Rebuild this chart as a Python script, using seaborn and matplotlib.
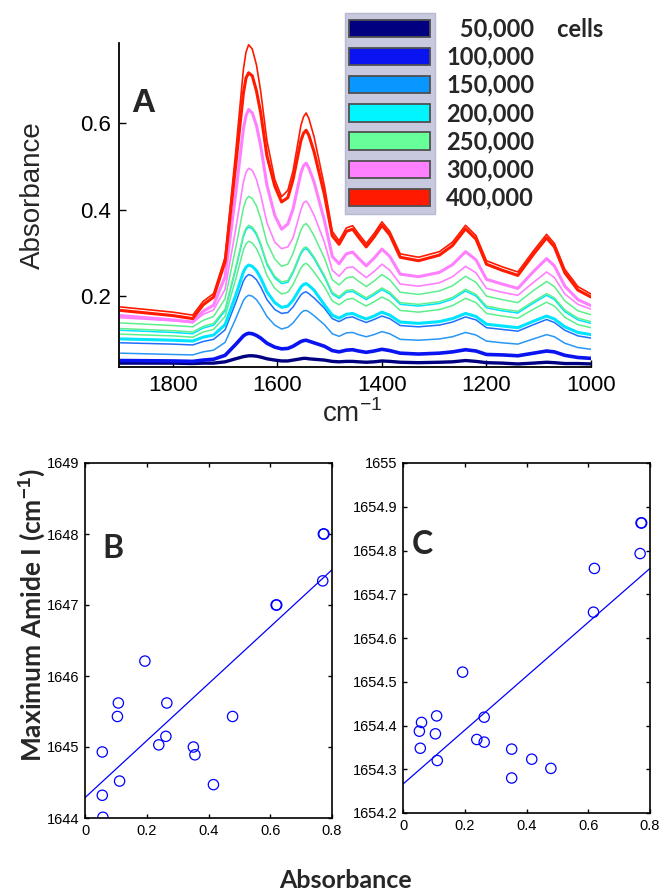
import matplotlib
matplotlib.use('Agg')
import matplotlib.pyplot as plt
import matplotlib.patches as mpatches
from matplotlib.ticker import FormatStrFormatter
import seaborn as sns

sns.set_theme(style='ticks')
plt.rcParams['font.family'] = ['Liberation Sans', 'DejaVu Sans']
plt.rcParams['mathtext.fontset'] = 'custom'
plt.rcParams['mathtext.rm'] = 'Liberation Sans'
plt.rcParams['mathtext.bf'] = 'Liberation Sans:bold'

#%% panel A: IR spectra (absorbance vs wavenumber)
wavenumber = [1900, 1800, 1762, 1742, 1722, 1700, 1680, 1665, 1660, 1655, 1648, 1640,
              1632, 1620, 1605, 1592, 1580, 1570, 1555, 1550, 1545, 1540, 1530, 1510,
              1495, 1482, 1468, 1456, 1445, 1430, 1415, 1400, 1385, 1365, 1330, 1290,
              1265, 1240, 1220, 1200, 1170, 1140, 1110, 1085, 1070, 1050, 1025, 1000]

abs_400k_a = [0.175, 0.163, 0.156, 0.188, 0.206, 0.290, 0.530, 0.725, 0.765, 0.782, 0.772, 0.735,
              0.675, 0.560, 0.470, 0.430, 0.445, 0.490, 0.595, 0.615, 0.624, 0.612, 0.570, 0.455,
              0.350, 0.328, 0.358, 0.363, 0.345, 0.322, 0.345, 0.372, 0.350, 0.298, 0.290, 0.303,
              0.325, 0.364, 0.340, 0.282, 0.268, 0.256, 0.305, 0.343, 0.322, 0.262, 0.222, 0.205]
abs_400k_b = [0.167, 0.155, 0.148, 0.180, 0.198, 0.280, 0.500, 0.670, 0.705, 0.717, 0.710, 0.675,
              0.625, 0.525, 0.455, 0.418, 0.428, 0.470, 0.560, 0.577, 0.584, 0.573, 0.535, 0.435,
              0.340, 0.320, 0.350, 0.355, 0.337, 0.314, 0.337, 0.364, 0.342, 0.290, 0.282, 0.295,
              0.317, 0.356, 0.332, 0.274, 0.260, 0.248, 0.297, 0.335, 0.314, 0.254, 0.214, 0.198]
abs_300k_a = [0.155, 0.145, 0.140, 0.165, 0.179, 0.245, 0.434, 0.587, 0.618, 0.632, 0.624, 0.595,
              0.548, 0.457, 0.387, 0.355, 0.367, 0.402, 0.485, 0.502, 0.508, 0.497, 0.465, 0.375,
              0.292, 0.275, 0.298, 0.302, 0.288, 0.270, 0.288, 0.309, 0.292, 0.251, 0.245, 0.255,
              0.273, 0.303, 0.284, 0.239, 0.228, 0.218, 0.257, 0.287, 0.270, 0.223, 0.192, 0.178]
abs_300k_b = [0.150, 0.143, 0.139, 0.158, 0.168, 0.216, 0.353, 0.464, 0.487, 0.496, 0.491, 0.470,
              0.435, 0.370, 0.325, 0.310, 0.314, 0.335, 0.400, 0.416, 0.420, 0.412, 0.388, 0.325,
              0.260, 0.246, 0.265, 0.268, 0.257, 0.243, 0.257, 0.274, 0.260, 0.228, 0.223, 0.231,
              0.245, 0.269, 0.254, 0.218, 0.209, 0.202, 0.232, 0.256, 0.243, 0.205, 0.181, 0.170]
abs_250k_a = [0.138, 0.132, 0.129, 0.144, 0.153, 0.194, 0.310, 0.404, 0.423, 0.431, 0.426, 0.409,
              0.380, 0.324, 0.286, 0.269, 0.274, 0.299, 0.353, 0.364, 0.368, 0.361, 0.340, 0.288,
              0.238, 0.226, 0.242, 0.245, 0.235, 0.222, 0.235, 0.250, 0.238, 0.209, 0.204, 0.212,
              0.224, 0.246, 0.232, 0.200, 0.192, 0.185, 0.213, 0.234, 0.222, 0.189, 0.166, 0.157]
abs_250k_b = [0.125, 0.120, 0.117, 0.130, 0.137, 0.170, 0.265, 0.342, 0.357, 0.364, 0.360, 0.346,
              0.322, 0.277, 0.246, 0.233, 0.236, 0.258, 0.302, 0.311, 0.314, 0.308, 0.291, 0.248,
              0.209, 0.199, 0.213, 0.215, 0.207, 0.196, 0.207, 0.219, 0.209, 0.185, 0.181, 0.187,
              0.197, 0.216, 0.204, 0.177, 0.170, 0.165, 0.188, 0.206, 0.196, 0.168, 0.149, 0.141]
abs_250k_c = [0.112, 0.108, 0.105, 0.117, 0.123, 0.153, 0.238, 0.307, 0.321, 0.327, 0.323, 0.310,
              0.289, 0.248, 0.218, 0.205, 0.209, 0.227, 0.265, 0.273, 0.276, 0.271, 0.256, 0.222,
              0.189, 0.180, 0.192, 0.195, 0.187, 0.177, 0.187, 0.198, 0.189, 0.167, 0.163, 0.169,
              0.178, 0.195, 0.185, 0.160, 0.154, 0.149, 0.170, 0.186, 0.177, 0.151, 0.134, 0.127]
abs_200k_a = [0.121, 0.116, 0.113, 0.126, 0.133, 0.166, 0.261, 0.338, 0.353, 0.360, 0.356, 0.342,
              0.318, 0.273, 0.242, 0.229, 0.232, 0.254, 0.298, 0.307, 0.310, 0.304, 0.287, 0.244,
              0.205, 0.195, 0.209, 0.211, 0.203, 0.192, 0.203, 0.215, 0.205, 0.181, 0.177, 0.183,
              0.193, 0.212, 0.200, 0.173, 0.166, 0.161, 0.184, 0.202, 0.192, 0.164, 0.145, 0.137]
abs_200k_b = [0.101, 0.098, 0.096, 0.105, 0.110, 0.134, 0.201, 0.256, 0.267, 0.272, 0.269, 0.259,
              0.242, 0.210, 0.185, 0.174, 0.177, 0.191, 0.221, 0.227, 0.229, 0.225, 0.214, 0.180,
              0.156, 0.149, 0.158, 0.160, 0.154, 0.147, 0.154, 0.163, 0.156, 0.140, 0.137, 0.141,
              0.148, 0.160, 0.153, 0.135, 0.131, 0.127, 0.142, 0.154, 0.147, 0.129, 0.116, 0.111]
abs_150k_a = [0.092, 0.089, 0.087, 0.095, 0.100, 0.122, 0.184, 0.235, 0.245, 0.250, 0.247, 0.238,
              0.222, 0.192, 0.169, 0.160, 0.162, 0.175, 0.203, 0.208, 0.210, 0.206, 0.196, 0.172,
              0.148, 0.141, 0.150, 0.152, 0.146, 0.139, 0.146, 0.154, 0.148, 0.132, 0.129, 0.133,
              0.140, 0.152, 0.145, 0.127, 0.123, 0.119, 0.134, 0.146, 0.139, 0.121, 0.108, 0.103]
abs_150k_b = [0.068, 0.065, 0.064, 0.071, 0.075, 0.093, 0.147, 0.190, 0.198, 0.202, 0.200, 0.192,
              0.178, 0.153, 0.133, 0.124, 0.128, 0.138, 0.161, 0.166, 0.167, 0.164, 0.155, 0.134,
              0.113, 0.107, 0.115, 0.116, 0.111, 0.106, 0.111, 0.118, 0.113, 0.100, 0.098, 0.101,
              0.106, 0.116, 0.110, 0.096, 0.092, 0.089, 0.101, 0.111, 0.106, 0.091, 0.081, 0.077]
abs_100k = [0.051, 0.050, 0.049, 0.052, 0.054, 0.063, 0.088, 0.108, 0.112, 0.114, 0.113, 0.109,
            0.103, 0.091, 0.082, 0.078, 0.079, 0.084, 0.095, 0.097, 0.098, 0.096, 0.092, 0.084,
            0.074, 0.071, 0.075, 0.076, 0.073, 0.070, 0.073, 0.077, 0.074, 0.068, 0.066, 0.068,
            0.071, 0.076, 0.073, 0.065, 0.064, 0.062, 0.068, 0.073, 0.071, 0.063, 0.058, 0.056]
abs_50k = [0.045, 0.045, 0.044, 0.045, 0.045, 0.048, 0.055, 0.060, 0.061, 0.062, 0.062, 0.061,
           0.059, 0.055, 0.052, 0.050, 0.050, 0.052, 0.055, 0.056, 0.056, 0.055, 0.054, 0.052,
           0.049, 0.048, 0.049, 0.049, 0.048, 0.047, 0.048, 0.050, 0.049, 0.047, 0.046, 0.047,
           0.048, 0.051, 0.049, 0.046, 0.045, 0.043, 0.045, 0.047, 0.046, 0.044, 0.044, 0.043]

cells = ['\u200750,000    cells', '100,000', '150,000', '200,000', '250,000', '300,000', '400,000']
cell_colors = ['#000080', '#0a14f0', '#0a96ff', '#00f5ff', '#66ff99', '#ff80ff', '#ff1a00']

# (curve, colour, linewidth) drawn bottom-up so red sits on top
spectra = [(abs_50k, '#000080', 2.4), (abs_100k, '#0a14f0', 2.6),
           (abs_150k_b, '#2896f5', 1.1), (abs_150k_a, '#1e6eff', 1.1),
           (abs_200k_b, '#00e5ff', 2.2), (abs_250k_c, '#5cef8c', 1.1),
           (abs_200k_a, '#00e5ff', 1.1), (abs_250k_b, '#5cef8c', 1.1),
           (abs_250k_a, '#5cef8c', 1.1), (abs_300k_b, '#ff80ff', 1.2),
           (abs_300k_a, '#ff80ff', 2.2), (abs_400k_b, '#ff1a00', 2.2),
           (abs_400k_a, '#ff1a00', 1.2)]

#%% panels B and C: amide I maximum vs absorbance
absorbance_b = [0.056, 0.056, 0.058, 0.112, 0.105, 0.108, 0.194, 0.239, 0.262, 0.265,
                0.351, 0.356, 0.416, 0.478, 0.619, 0.621, 0.770, 0.772, 0.774]
amide_b = [1644.93, 1644.32, 1644.01, 1644.52, 1645.43, 1645.62, 1646.21, 1645.03, 1645.15,
           1645.62, 1645.00, 1644.89, 1644.47, 1645.43, 1647.00, 1647.00, 1647.34, 1648.00, 1648.00]

absorbance_c = [0.053, 0.060, 0.056, 0.105, 0.109, 0.111, 0.193, 0.239, 0.263, 0.263,
                0.352, 0.352, 0.417, 0.479, 0.617, 0.620, 0.768, 0.771, 0.773]
amide_c = [1654.387, 1654.407, 1654.348, 1654.381, 1654.422, 1654.320, 1654.522, 1654.368,
           1654.419, 1654.362, 1654.346, 1654.280, 1654.323, 1654.302, 1654.659, 1654.759,
           1654.793, 1654.863, 1654.863]

#%% figure
fig = plt.figure(figsize=(6.6, 8.94), dpi=100)
W, H = 660, 894

axA = fig.add_axes([119/W, 1-367/H, 472/W, 324/H])
for vals, col, lw in spectra:
    sns.lineplot(x=wavenumber, y=vals, ax=axA, color=col, lw=lw, sort=False, estimator=None)
axA.set_xlim(1903, 1000)
axA.set_ylim(0.036, 0.786)
axA.set_xticks([1800, 1600, 1400, 1200, 1000])
axA.set_yticks([0.2, 0.4, 0.6])
axA.yaxis.set_major_formatter(FormatStrFormatter('%g'))
axA.tick_params(direction='in', length=5, width=1, labelsize=16, colors='black', pad=6)
sns.despine(ax=axA)
for s in ['left', 'bottom']:
    axA.spines[s].set_color('black')
    axA.spines[s].set_linewidth(1.3)
axA.set_xlabel('cm$^{-1}$', fontsize=20)
axA.xaxis.set_label_coords((352-119)/472, -0.1)
axA.set_ylabel('Absorbance', fontsize=20)
axA.yaxis.set_label_coords(-0.155, 0.53)
axA.text(0.026, 0.787, 'A', transform=axA.transAxes, fontsize=24, fontweight='bold',
         va='baseline', ha='left')

# legend: lavender patch column plus separate bold labels
leg_font = dict(family=['Lato', 'DejaVu Sans'], weight='bold', size=17)
common = dict(loc='upper left', bbox_transform=fig.transFigure, borderaxespad=0,
              borderpad=0.19, labelspacing=0.22, handleheight=0.76, prop=leg_font)
handles = [mpatches.Patch(facecolor=c, edgecolor='#505050', linewidth=1.3) for c in cell_colors]
leg1 = fig.legend(handles, [''] * len(cells), bbox_to_anchor=(345/W, 1-13/H),
                  handlelength=3.43, handletextpad=0, frameon=True, fancybox=False,
                  framealpha=1, **common)
leg1.get_frame().set_facecolor('#c8c8de')
leg1.get_frame().set_edgecolor('#b8b8d0')
blank = [mpatches.Patch(facecolor='none', edgecolor='none') for c in cell_colors]
leg2 = fig.legend(blank, cells, bbox_to_anchor=(441.5/W, 1-13/H), handlelength=0,
                  handletextpad=0, frameon=False, **common)

tick_font = ['Liberation Sans Narrow', 'Liberation Sans', 'DejaVu Sans']


def scatter_panel(ax, xs, ys, ylim, yticks, letter, lx, ly):
    ax.set_xlim(0, 0.8)
    sns.regplot(x=xs, y=ys, ax=ax, ci=None, truncate=False, color='#0000ff', marker='o',
                scatter_kws=dict(facecolors='none', s=55, linewidths=0.9, alpha=1),
                line_kws=dict(lw=0.9))
    ax.set_xlim(0, 0.8)
    ax.set_ylim(*ylim)
    ax.set_xticks([0, 0.2, 0.4, 0.6, 0.8])
    ax.set_yticks(yticks)
    ax.xaxis.set_major_formatter(FormatStrFormatter('%g'))
    ax.yaxis.set_major_formatter(FormatStrFormatter('%g'))
    ax.tick_params(direction='in', length=3, width=1, top=True, right=True,
                   labelsize=10.5, colors='black', pad=4)
    for lab in ax.get_xticklabels() + ax.get_yticklabels():
        lab.set_family(tick_font)
    for s in ax.spines.values():
        s.set_color('black')
        s.set_linewidth(1.2)
    ax.text(lx, ly, letter, transform=ax.transAxes, fontsize=23, fontweight='bold',
            family=['Lato', 'DejaVu Sans'], va='baseline', ha='left')


axB = fig.add_axes([85/W, 1-818/H, 247/W, 355/H])
scatter_panel(axB, absorbance_b, amide_b, (1644, 1649), [1644, 1645, 1646, 1647, 1648, 1649],
              'B', 0.07, 0.733)
axC = fig.add_axes([403/W, 1-813/H, 247/W, 350/H])
scatter_panel(axC, absorbance_c, amide_c, (1654.2, 1655),
              [1654.2, 1654.3, 1654.4, 1654.5, 1654.6, 1654.7, 1654.8, 1654.9, 1655],
              'C', 0.035, 0.74)

fig.text(32/W, 1-615/H, 'Maximum Amide I (cm$^{\\mathbf{-1}}$)', rotation=90, ha='center',
         va='center', fontsize=19, fontweight='bold', family=['Lato', 'DejaVu Sans'])
fig.text(345/W, 1-880/H, 'Absorbance', ha='center', va='center', fontsize=18,
         fontweight='bold', family=['Lato', 'DejaVu Sans'])

fig.savefig('out.png', dpi=100)
